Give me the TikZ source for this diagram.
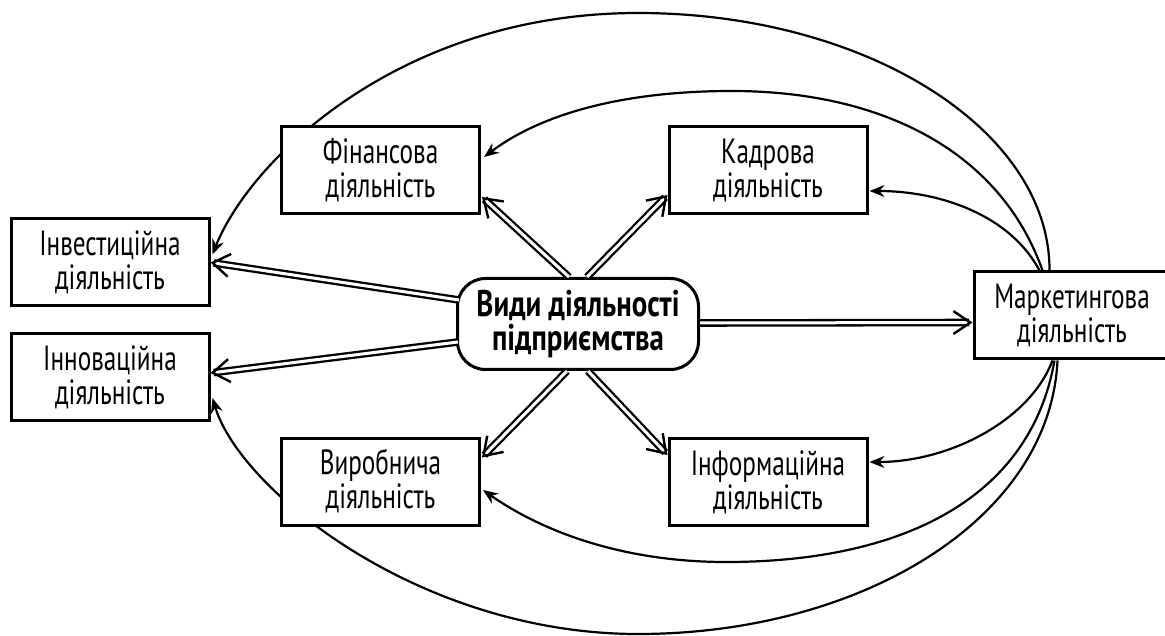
\documentclass[tikz,border=0pt]{standalone}
\usepackage{fontspec}
\setmainfont{PT Sans}[FakeStretch=0.78]
\newfontfamily\boxfont{PT Sans}[FakeStretch=0.72]
\usetikzlibrary{arrows.meta,calc}
\pgfdeclarelayer{bg}
\pgfsetlayers{bg,main}
\tikzset{
  boxtxt/.style={font=\boxfont\fontsize{35}{34}\selectfont},
  box/.style={draw, line width=3pt, fill=white, minimum width=198pt, minimum height=87pt,
    align=center, inner sep=0pt, boxtxt},
  hub/.style={draw, line width=3pt, fill=white, rounded corners=28pt, minimum width=241pt,
    minimum height=91pt, align=center, inner sep=0pt, font=\bfseries\fontsize{37}{34}\selectfont},
  dbl/.style={double=white, double distance=3pt, line width=2.3pt,
    -{Straight Barb[length=17pt,width=23pt,line width=2.4pt]}},
  crv/.style={line width=2.2pt, -{Stealth[length=15pt,width=12pt,inset=5pt]}}
}
\begin{document}
\begin{tikzpicture}[x=1pt,y=-1pt]
\useasboundingbox (0,0) rectangle (1165,636);
\begin{pgfonlayer}{bg}
\fill[white] (0,0) rectangle (1165,636);
\end{pgfonlayer}
% nodes
\node[box] (fin) at (380.5,170) {Фінансова\\діяльність};
\node[box] (kad) at (768,170) {Кадрова\\діяльність};
\node[box] (inv) at (110,262.5) {Інвестиційна\\діяльність};
\node[box] (inn) at (110,377) {Інноваційна\\діяльність};
\node[box] (vyr) at (380.5,481.5) {Виробнича\\діяльність};
\node[box] (inf) at (768,482) {Інформаційна\\діяльність};
\node[box, minimum width=210pt] (mar) at (1079,315.5) {};
\node[boxtxt, align=center, inner sep=0pt] (martext) at (1072,315.5) {Маркетингова\\діяльність};
\node[hub] (hub) at (578,324) {Види діяльності\\підприємства};
% curved arrows (behind boxes)
\begin{pgfonlayer}{bg}
\draw[crv] ($(mar.north west)+(77,0)$) .. controls (1050,129) and (865,13) .. (638,13)
  .. controls (400,13) and (250,160) .. ($(inv.east)+(2,-8)$);
\draw[crv] ($(mar.north west)+(70,0)$) .. controls (1000,150) and (880,91) .. (732,91)
  .. controls (620,91) and (540,115) .. ($(fin.east)+(3,-13)$);
\draw[crv] ($(mar.north west)+(67,0)$) .. controls (1010,215) and (940,191) .. ($(kad.east)+(1,21)$);
\draw[crv] ($(mar.south west)+(80,0)$) .. controls (1030,420) and (950,462) .. ($(inf.east)+(1,-20)$);
\draw[crv] ($(mar.south west)+(82,0)$) .. controls (1030,500) and (900,562) .. (726,562)
  .. controls (620,562) and (540,530) .. ($(vyr.east)+(2,8.5)$);
\draw[crv] ($(mar.south west)+(85,0)$) .. controls (1050,520) and (860,634) .. (638,634)
  .. controls (420,634) and (240,490) .. ($(inn.east)+(2,21)$);
\end{pgfonlayer}
% double arrows
\draw[dbl] ($(hub.west)+(3,-24)$) -- (inv.east);
\draw[dbl] ($(hub.west)+(2,18)$) -- ($(inn.east)+(0,-4)$);
\draw[dbl] ($(hub.north)+(-9,0)$) -- ($(fin.east)+(1,27)$);
\draw[dbl] ($(hub.north)+(9,0)$) -- ($(kad.west)+(0,25)$);
\draw[dbl] ($(hub.south)+(-11,0)$) -- ($(vyr.east)+(1,-24)$);
\draw[dbl] ($(hub.south)+(10,0)$) -- ($(inf.west)+(0,-27)$);
\draw[dbl] ($(hub.east)+(0,-1)$) -- ($(mar.west)+(0,7)$);
\end{tikzpicture}
\end{document}
